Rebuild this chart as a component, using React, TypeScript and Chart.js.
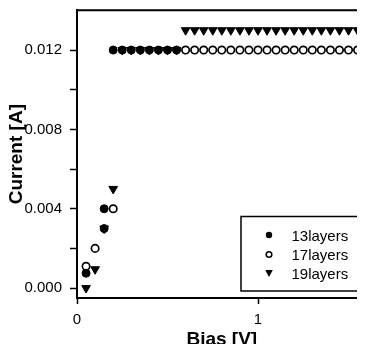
import React, { useEffect, useRef } from 'react';
import { Chart, registerables } from 'chart.js';

Chart.register(...registerables);

// ---- data ----
const seriesNames = ['13layers', '17layers', '19layers'];

const x13 = [0.05, 0.15, 0.15, 0.2, 0.25, 0.3, 0.35, 0.4, 0.45, 0.5, 0.55];
const y13 = [0.00075, 0.004, 0.003, 0.012, 0.012, 0.012, 0.012, 0.012, 0.012, 0.012, 0.012];

const x17 = [0.05, 0.1, 0.2, 0.6, 0.65, 0.7, 0.75, 0.8, 0.85, 0.9, 0.95, 1.0, 1.05, 1.1, 1.15, 1.2, 1.25, 1.3, 1.35, 1.4, 1.45, 1.5, 1.55, 1.6];
const y17 = [0.0011, 0.002, 0.004, 0.012, 0.012, 0.012, 0.012, 0.012, 0.012, 0.012, 0.012, 0.012, 0.012, 0.012, 0.012, 0.012, 0.012, 0.012, 0.012, 0.012, 0.012, 0.012, 0.012, 0.012];

const x19 = [0.05, 0.1, 0.15, 0.2, 0.25, 0.3, 0.35, 0.4, 0.45, 0.5, 0.55, 0.6, 0.65, 0.7, 0.75, 0.8, 0.85, 0.9, 0.95, 1.0, 1.05, 1.1, 1.15, 1.2, 1.25, 1.3, 1.35, 1.4, 1.45, 1.5, 1.55, 1.6];
const y19 = [0.0, 0.00095, 0.003, 0.005, 0.012, 0.012, 0.012, 0.012, 0.012, 0.012, 0.012, 0.013, 0.013, 0.013, 0.013, 0.013, 0.013, 0.013, 0.013, 0.013, 0.013, 0.013, 0.013, 0.013, 0.013, 0.013, 0.013, 0.013, 0.013, 0.013, 0.013, 0.013];

const yTickValues = [0, 0.002, 0.004, 0.006, 0.008, 0.01, 0.012];
const yLabelledTicks = [0, 0.004, 0.008, 0.012];
const xTickValues = [0, 1];
const xTitle = 'Bias [V]';
const yTitle = 'Current [A]';

const FONT = "'Liberation Sans', Arial, Helvetica, sans-serif";

const toPoints = (xs: number[], ys: number[]) => xs.map((x, i) => ({ x, y: ys[i] }));

const zeroPadding = (scale: any) => {
  scale.paddingTop = 0;
  scale.paddingBottom = 0;
  scale.paddingLeft = 0;
  scale.paddingRight = 0;
};

const framePlugin = {
  id: 'frameAndLegend',
  afterDraw(chart: any) {
    const { ctx, chartArea } = chart;
    const { left, right, top, bottom } = chartArea;
    ctx.save();
    ctx.strokeStyle = '#000';
    ctx.lineWidth = 2;
    ctx.beginPath();
    ctx.moveTo(left - 1, top);
    ctx.lineTo(right, top);
    ctx.lineTo(right, bottom);
    ctx.stroke();

    // legend box (inside the plot, lower right)
    const bx = right - 125.6;
    const by = bottom - 81.5;
    const bw = 121;
    const bh = 74.5;
    ctx.lineWidth = 1.5;
    ctx.strokeRect(bx, by, bw, bh);
    const rows = [19.5, 38, 57];
    ctx.font = `15px ${FONT}`;
    ctx.fillStyle = '#000';
    ctx.textAlign = 'left';
    ctx.textBaseline = 'middle';
    seriesNames.forEach((name, i) => {
      const mx = bx + 28;
      const my = by + rows[i];
      ctx.beginPath();
      if (i === 0) {
        ctx.arc(mx, my - 1, 3.2, 0, Math.PI * 2);
        ctx.fill();
      } else if (i === 1) {
        ctx.lineWidth = 1.5;
        ctx.arc(mx, my, 2.8, 0, Math.PI * 2);
        ctx.stroke();
      } else {
        ctx.moveTo(mx - 3.8, my - 3.5);
        ctx.lineTo(mx + 3.8, my - 3.5);
        ctx.lineTo(mx, my + 3.5);
        ctx.closePath();
        ctx.fill();
      }
      ctx.fillText(name, bx + 50.5, my + 1);
    });
    ctx.restore();
  },
};

export default function App() {
  const ref = useRef<HTMLCanvasElement | null>(null);

  useEffect(() => {
    if (!ref.current) return;
    const chart = new Chart(ref.current, {
      type: 'scatter',
      data: {
        datasets: [
          {
            label: seriesNames[0],
            data: toPoints(x13, y13),
            pointStyle: 'circle',
            pointRadius: 4,
            pointBorderWidth: 1,
            backgroundColor: '#000',
            borderColor: '#000',
            clip: false,
          },
          {
            label: seriesNames[1],
            data: toPoints(x17, y17),
            pointStyle: 'circle',
            pointRadius: 3.7,
            pointBorderWidth: 1.7,
            backgroundColor: 'rgba(255,255,255,0)',
            borderColor: '#000',
            clip: false,
          },
          {
            label: seriesNames[2],
            data: toPoints(x19, y19),
            pointStyle: 'triangle',
            pointRotation: 180,
            pointRadius: 5,
            pointBorderWidth: 1,
            backgroundColor: '#000',
            borderColor: '#000',
            clip: false,
          },
        ],
      },
      options: {
        animation: false,
        responsive: false,
        devicePixelRatio: 1,
        layout: { autoPadding: false, padding: { top: 2.35, right: 3.4, left: 0, bottom: 0 } },
        plugins: {
          legend: { display: false },
          tooltip: { enabled: false },
        },
        scales: {
          x: {
            type: 'linear',
            min: 0,
            max: 1.6,
            afterBuildTicks: (scale: any) => {
              scale.ticks = xTickValues.map((v) => ({ value: v }));
            },
            afterFit: (scale: any) => {
              scale.height = 54;
              zeroPadding(scale);
            },
            ticks: {
              color: '#000',
              font: { family: FONT, size: 15 },
              padding: 7,
              maxRotation: 0,
              autoSkip: false,
              callback: (v: any) => String(v),
            },
            grid: {
              display: true,
              drawOnChartArea: false,
              drawTicks: true,
              tickLength: 6,
              tickColor: '#000',
              tickWidth: 1.5,
            },
            border: { display: true, color: '#000', width: 2 },
            title: {
              display: true,
              text: xTitle,
              color: '#000',
              font: { family: FONT, size: 19, weight: 'bold', lineHeight: 1.2 },
              padding: { top: 0, bottom: 0.5 },
            },
          },
          y: {
            type: 'linear',
            min: -0.0005,
            max: 0.014,
            afterBuildTicks: (scale: any) => {
              scale.ticks = yTickValues.map((v) => ({ value: v }));
            },
            afterFit: (scale: any) => {
              scale.width = 69;
              zeroPadding(scale);
            },
            ticks: {
              color: '#000',
              font: { family: FONT, size: 15 },
              padding: 8,
              autoSkip: false,
              callback: (v: any) => {
                const n = Number(v);
                return yLabelledTicks.some((t) => Math.abs(t - n) < 1e-9) ? n.toFixed(3) : '';
              },
            },
            grid: {
              display: true,
              drawOnChartArea: false,
              drawTicks: true,
              tickLength: 7,
              tickColor: '#000',
              tickWidth: 1.5,
            },
            border: { display: true, color: '#000', width: 2 },
            title: {
              display: true,
              text: yTitle,
              color: '#000',
              font: { family: FONT, size: 19, weight: 'bold', lineHeight: 0.9 },
              padding: { top: 0, bottom: 0 },
            },
          },
        },
      },
      plugins: [framePlugin],
    });
    return () => chart.destroy();
  }, []);

  return (
    <div style={{ width: 357, height: 344, overflow: 'hidden', marginBottom: -8, background: '#fff' }}>
      <canvas ref={ref} width={362} height={344} style={{ display: 'block', width: 362, height: 344 }} />
    </div>
  );
}
